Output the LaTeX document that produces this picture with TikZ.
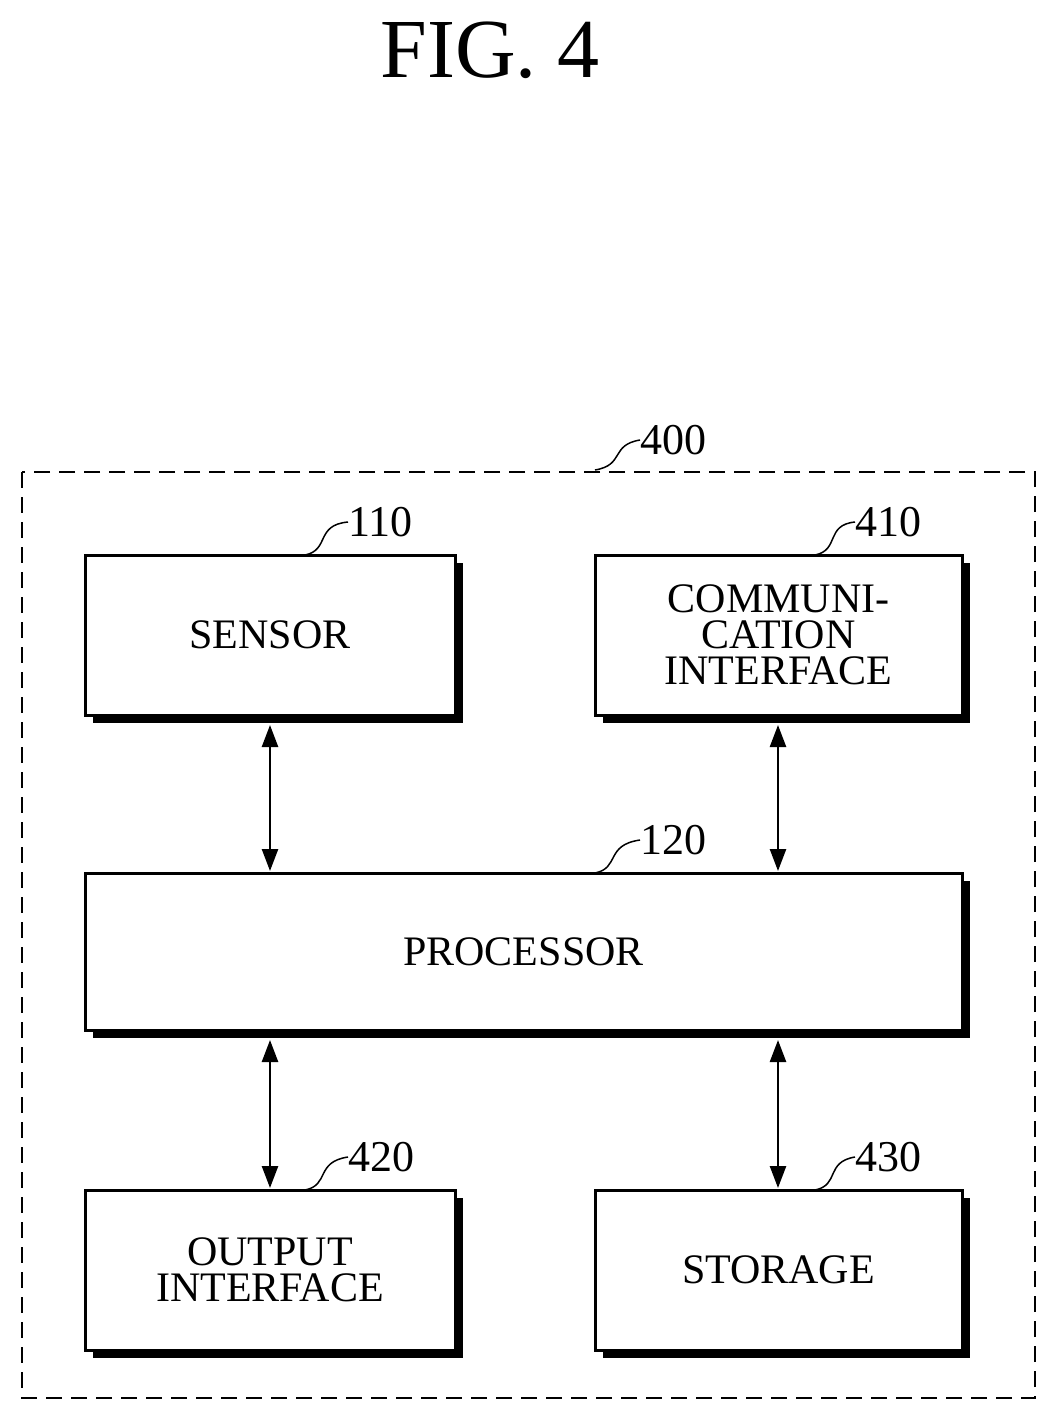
\documentclass[tikz,border=0pt]{standalone}
\usepackage{fontspec}
\setmainfont{Liberation Serif}
\usetikzlibrary{arrows.meta}
\begin{document}
\begin{tikzpicture}[x=1pt,y=-1pt,
  box/.style={draw,line width=3pt,fill=white,align=center,font=\fontsize{42}{42}\selectfont,inner sep=0pt},
  lbl/.style={font=\fontsize{44}{44}\selectfont,anchor=west,inner sep=0pt},
  lead/.style={line width=1.5pt},
  arr/.style={line width=2.5pt,{Triangle[length=22pt,width=16pt]}-{Triangle[length=22pt,width=16pt]}}]
\useasboundingbox (0,0) rectangle (1058,1422);
\node[font=\fontsize{84}{84}\selectfont] (fig) at (490,50) {FIG. 4};
\draw[line width=2.5pt,dash pattern=on 16pt off 9pt] (22,472) rectangle (1035,1398);
\coordinate (o4) at (595,470);
\node[lbl] (l400) at (640,440) {400};
\draw[lead] (o4) .. controls (625,465) and (610,445) .. (l400.west);
\newcommand{\shbox}[6]{% name, x1,y1,x2,y2,text
  \fill (#2+8,#3+8) rectangle (#4+8,#5+8);
  \pgfmathsetmacro\bw{#4-#2}\pgfmathsetmacro\bh{#5-#3}%
  \pgfmathsetmacro\bx{(#2+#4)/2}\pgfmathsetmacro\by{(#3+#5)/2}%
  \node[box,minimum width=\bw pt,minimum height=\bh pt] (#1) at (\bx,\by) {#6};}
\shbox{sen}{85}{555}{455}{715}{SENSOR}
\shbox{com}{595}{555}{962}{715}{COMMUNI-\\[-6pt]CATION\\[-6pt]INTERFACE}
\shbox{pro}{85}{873}{962}{1030}{PROCESSOR}
\shbox{out}{85}{1190}{455}{1350}{OUTPUT\\[-6pt]INTERFACE}
\shbox{sto}{595}{1190}{962}{1350}{STORAGE}
\node[lbl] (l110) at (348,522) {110};
\draw[lead] (305,555) .. controls (330,550) and (315,525) .. (l110.west);
\node[lbl] (l410) at (855,522) {410};
\draw[lead] (815,555) .. controls (840,550) and (825,525) .. (l410.west);
\node[lbl] (l120) at (640,840) {120};
\draw[lead] (595,873) .. controls (620,868) and (605,845) .. (l120.west);
\node[lbl] (l420) at (348,1157) {420};
\draw[lead] (305,1190) .. controls (330,1185) and (315,1162) .. (l420.west);
\node[lbl] (l430) at (855,1157) {430};
\draw[lead] (815,1190) .. controls (840,1185) and (825,1162) .. (l430.west);
\draw[arr] (270,725) -- (270,871);
\draw[arr] (778,725) -- (778,871);
\draw[arr] (270,1040) -- (270,1188);
\draw[arr] (778,1040) -- (778,1188);
\end{tikzpicture}
\end{document}
